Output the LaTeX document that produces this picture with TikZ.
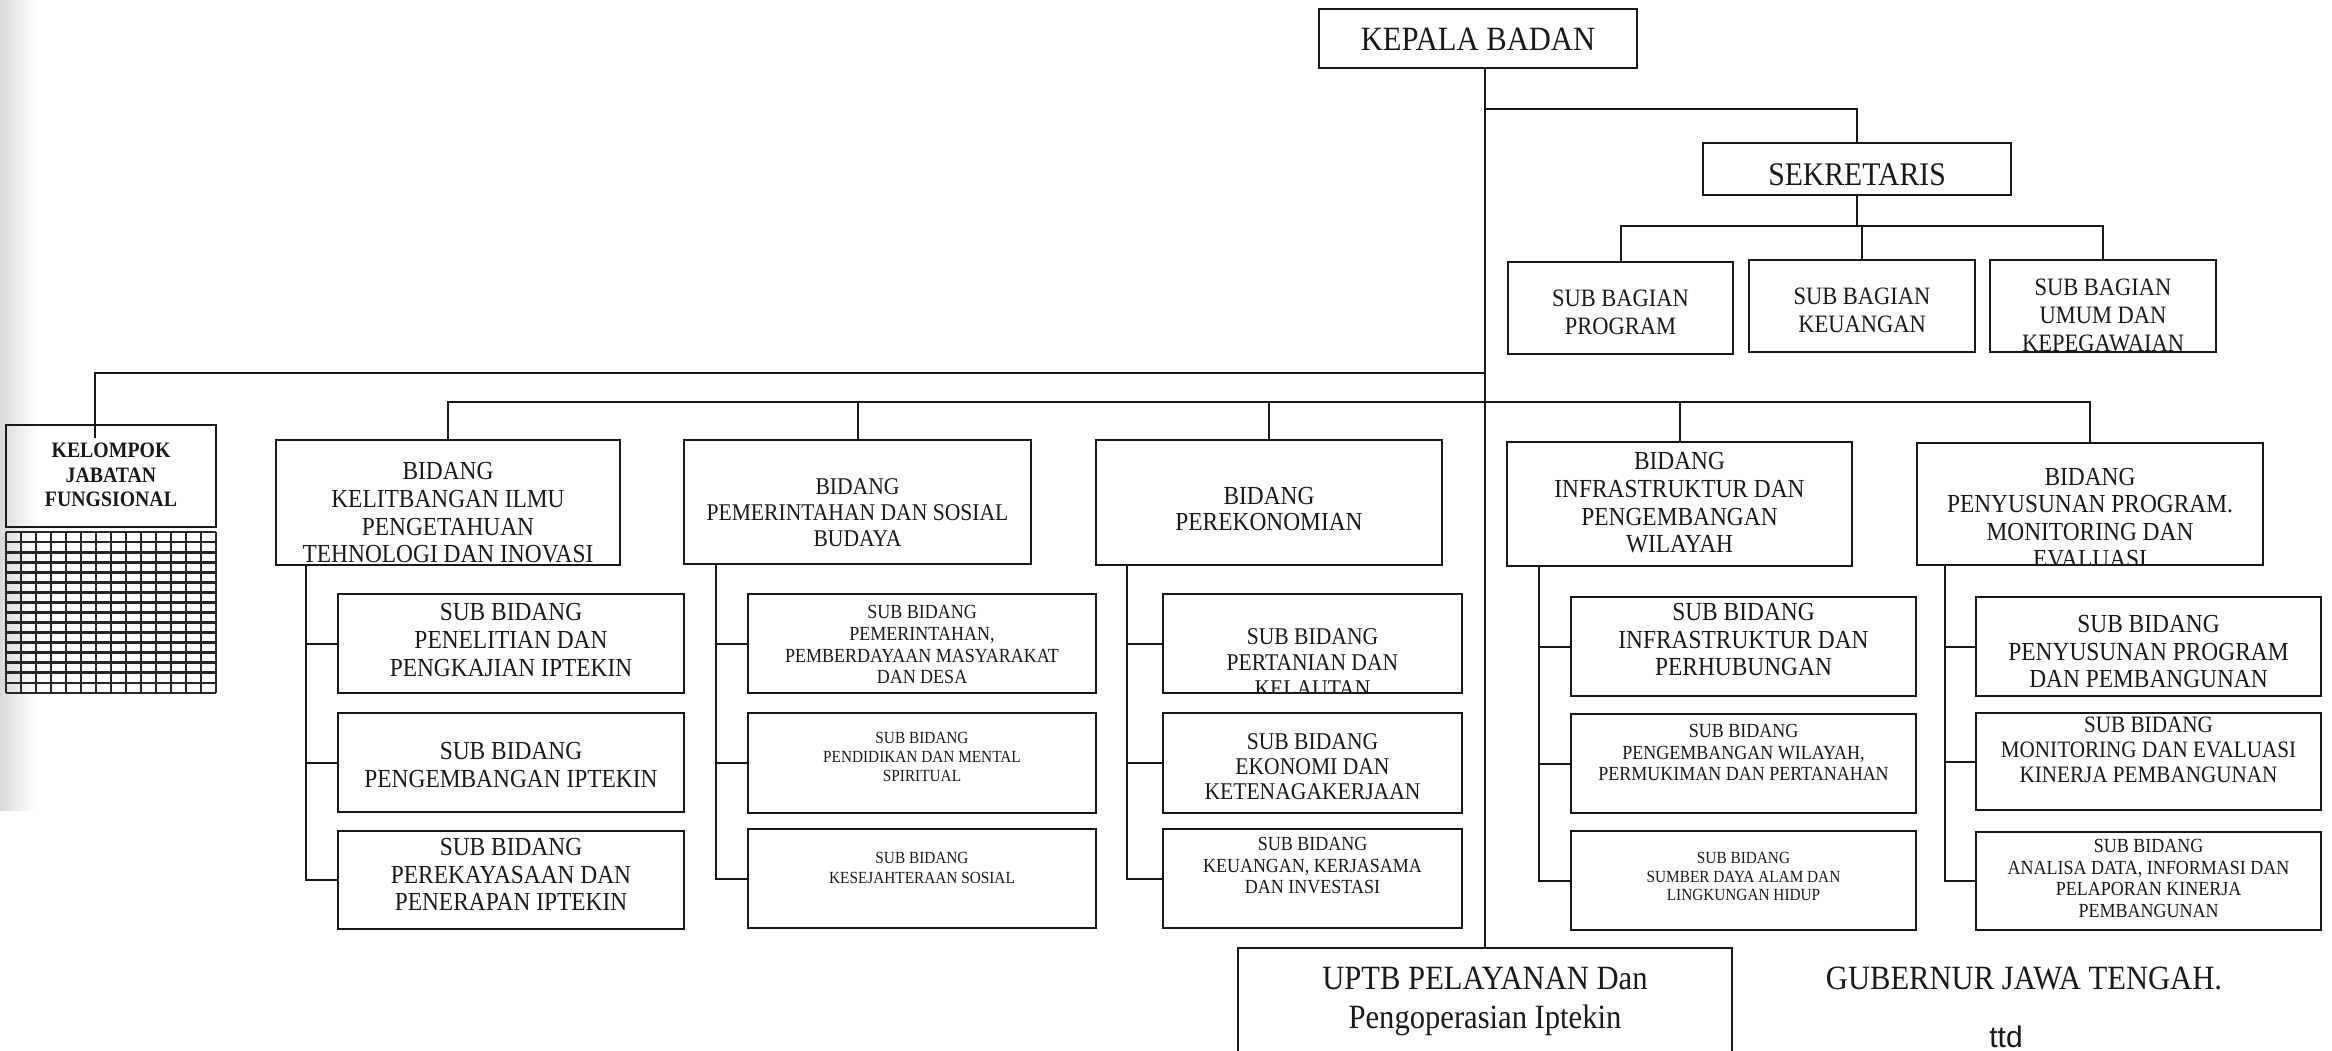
\documentclass[tikz,border=0pt]{standalone}
\usepackage{fontspec}
\setmainfont[FakeStretch=0.9]{Liberation Serif}
\newfontfamily\ttdfont{Liberation Sans}
\usetikzlibrary{fit,calc}
\newcommand\fs[2]{\fontsize{#1}{#2}\selectfont}
% #1 name, #2 x1, #3 y1, #4 x2, #5 y2, #6 top of text, #7 text options, #8 text
\newcommand\orgbox[8]{%
  \node[obox, fit={(#2,#3) (#4,#5)}] (#1) {};
  \begin{scope}
    \clip ($(#1.south west)+(2,-2)$) rectangle ($(#1.north east)+(-2,2)$);
    \node[otext, #7] (#1t) at ({(#2+#4)/2},#6) {#8};
  \end{scope}}
\begin{document}
\begin{tikzpicture}[x=0.5pt,y=-0.5pt,
  obox/.style={draw=black!90, line width=1.3pt, inner sep=0pt, outer sep=0pt},
  otext/.style={inner sep=0pt, anchor=north, align=center, text=black!90},
  conn/.style={draw=black!90, line width=1pt},
  gridline/.style={draw=black!85, line width=1.4pt}]
\useasboundingbox (0,0) rectangle (2332,1050);
\fill[white] (0,0) rectangle (2332,1050);
\shade[left color=gray!30, right color=white] (0,0) rectangle (36,810);

% top level
\orgbox{kepala}{1319}{9}{1637}{68}{28}{font=\fs{17}{19}}{KEPALA BADAN}
\orgbox{sek}{1703}{143}{2011}{195}{163}{font=\fs{16.5}{18}}{SEKRETARIS}
\orgbox{sb1}{1508}{262}{1733}{354}{290}{font=\fs{12.5}{14}}{SUB BAGIAN\\PROGRAM}
\orgbox{sb2}{1749}{260}{1975}{352}{288}{font=\fs{12.5}{14}}{SUB BAGIAN\\KEUANGAN}
\orgbox{sb3}{1990}{260}{2216}{352}{279}{font=\fs{12.5}{14}}{SUB BAGIAN\\UMUM DAN\\KEPEGAWAIAN}

% kelompok jabatan fungsional
\orgbox{kel}{6}{425}{216}{527}{443}{font=\bfseries\fs{11}{12.25}}{KELOMPOK\\JABATAN\\FUNGSIONAL}
\node[inner sep=0pt, outer sep=0pt, fit={(6,532) (216,693)}] (grid) {};
\foreach \i in {0,...,14} \draw[gridline] ({6+15*\i},532) -- ({6+15*\i},693);
\foreach \j in {0,...,16} \draw[gridline] (6,{532+\j*10.0625}) -- (216,{532+\j*10.0625});

% bidang
\orgbox{b1}{276}{440}{620}{565}{462}{font=\fs{13}{13.85}}{BIDANG\\KELITBANGAN ILMU\\PENGETAHUAN\\TEHNOLOGI DAN INOVASI}
\orgbox{b2}{684}{440}{1031}{564}{478}{font=\fs{12}{13}}{BIDANG\\PEMERINTAHAN DAN SOSIAL\\BUDAYA}
\orgbox{b3}{1096}{440}{1442}{565}{487}{font=\fs{13}{13}}{BIDANG\\PEREKONOMIAN}
\orgbox{b4}{1507}{442}{1852}{566}{452}{font=\fs{13}{13.85}}{BIDANG\\INFRASTRUKTUR DAN\\PENGEMBANGAN\\WILAYAH}
\orgbox{b5}{1917}{443}{2263}{565}{468}{font=\fs{13}{13.65}}{BIDANG\\PENYUSUNAN PROGRAM.\\MONITORING DAN\\EVALUASI}

% sub bidang column 1
\orgbox{s11}{338}{594}{684}{693}{603}{font=\fs{13}{14}}{SUB BIDANG\\PENELITIAN DAN\\PENGKAJIAN IPTEKIN}
\orgbox{s12}{338}{713}{684}{812}{742}{font=\fs{13}{13.75}}{SUB BIDANG\\PENGEMBANGAN IPTEKIN}
\orgbox{s13}{338}{831}{684}{929}{838}{font=\fs{13}{13.75}}{SUB BIDANG\\PEREKAYASAAN DAN\\PENERAPAN IPTEKIN}
% column 2
\orgbox{s21}{748}{594}{1096}{693}{605}{font=\fs{10}{10.85}}{SUB BIDANG\\PEMERINTAHAN,\\PEMBERDAYAAN MASYARAKAT\\DAN DESA}
\orgbox{s22}{748}{713}{1096}{813}{732}{font=\fs{8.5}{9.5}}{SUB BIDANG\\PENDIDIKAN DAN MENTAL\\SPIRITUAL}
\orgbox{s23}{748}{829}{1096}{928}{852}{font=\fs{8.5}{9.75}}{SUB BIDANG\\KESEJAHTERAAN SOSIAL}
% column 3
\orgbox{s31}{1163}{594}{1462}{693}{628}{font=\fs{12}{13}}{SUB BIDANG\\PERTANIAN DAN\\KELAUTAN}
\orgbox{s32}{1163}{713}{1462}{813}{733}{font=\fs{12}{12.5}}{SUB BIDANG\\EKONOMI DAN\\KETENAGAKERJAAN}
\orgbox{s33}{1163}{829}{1462}{928}{837}{font=\fs{10}{10.75}}{SUB BIDANG\\KEUANGAN, KERJASAMA\\DAN INVESTASI}
% column 4
\orgbox{s41}{1571}{597}{1916}{696}{603}{font=\fs{13}{13.75}}{SUB BIDANG\\INFRASTRUKTUR DAN\\PERHUBUNGAN}
\orgbox{s42}{1571}{714}{1916}{813}{724}{font=\fs{10}{10.75}}{SUB BIDANG\\PENGEMBANGAN WILAYAH,\\PERMUKIMAN DAN PERTANAHAN}
\orgbox{s43}{1571}{831}{1916}{930}{852}{font=\fs{8.5}{9.25}}{SUB BIDANG\\SUMBER DAYA ALAM DAN\\LINGKUNGAN HIDUP}
% column 5
\orgbox{s51}{1976}{597}{2321}{696}{615}{font=\fs{13}{13.75}}{SUB BIDANG\\PENYUSUNAN PROGRAM\\DAN PEMBANGUNAN}
\orgbox{s52}{1976}{713}{2321}{810}{717}{font=\fs{11.75}{12.5}}{SUB BIDANG\\MONITORING DAN EVALUASI\\KINERJA PEMBANGUNAN}
\orgbox{s53}{1976}{832}{2321}{930}{839}{font=\fs{10}{10.75}}{SUB BIDANG\\ANALISA DATA, INFORMASI DAN\\PELAPORAN KINERJA\\PEMBANGUNAN}

% UPTB
\orgbox{uptb}{1238}{948}{1732}{1070}{967}{font=\fs{17}{19.5}}{UPTB PELAYANAN Dan\\Pengoperasian Iptekin}

% signature texts
\node[otext, font=\fs{17}{19}] (gub) at (2024,967) {GUBERNUR JAWA TENGAH.};
\node[otext, font=\ttdfont\fs{15}{17}] (ttd) at (2006,1025) {ttd};

% connectors
\coordinate (j1) at (1485,109);
\coordinate (l0) at (1862,226);
\coordinate (l1) at (1485,373);
\coordinate (l2) at (1485,402);
\coordinate (kelin) at (95,438);
\draw[conn] (kepala.south -| uptb.north) -- (uptb.north);
\draw[conn] (j1) -| (sek.north);
\draw[conn] (sek.south) -- (sek.south |- l0);
\draw[conn] (sb1.north) -- (sb1.north |- l0) -- (sb3.north |- l0) -- (sb3.north);
\draw[conn] (sb2.north) -- (sb2.north |- l0);
\draw[conn] (kelin) |- (l1);
\draw[conn] (b1.north) -- (b1.north |- l2) -- (b5.north |- l2) -- (b5.north);
\foreach \b in {b2,b3,b4} \draw[conn] (\b.north) -- (\b.north |- l2);

\foreach \c/\dx in {1/30,2/32,3/31,4/32,5/28}{
  \coordinate (sp\c) at ($(b\c.south west)+(\dx,0)$);
  \draw[conn] (sp\c) |- (s\c3.west);
  \draw[conn] (s\c1.west) -- (s\c1.west -| sp\c);
  \draw[conn] (s\c2.west) -- (s\c2.west -| sp\c);
}
\end{tikzpicture}
\end{document}
